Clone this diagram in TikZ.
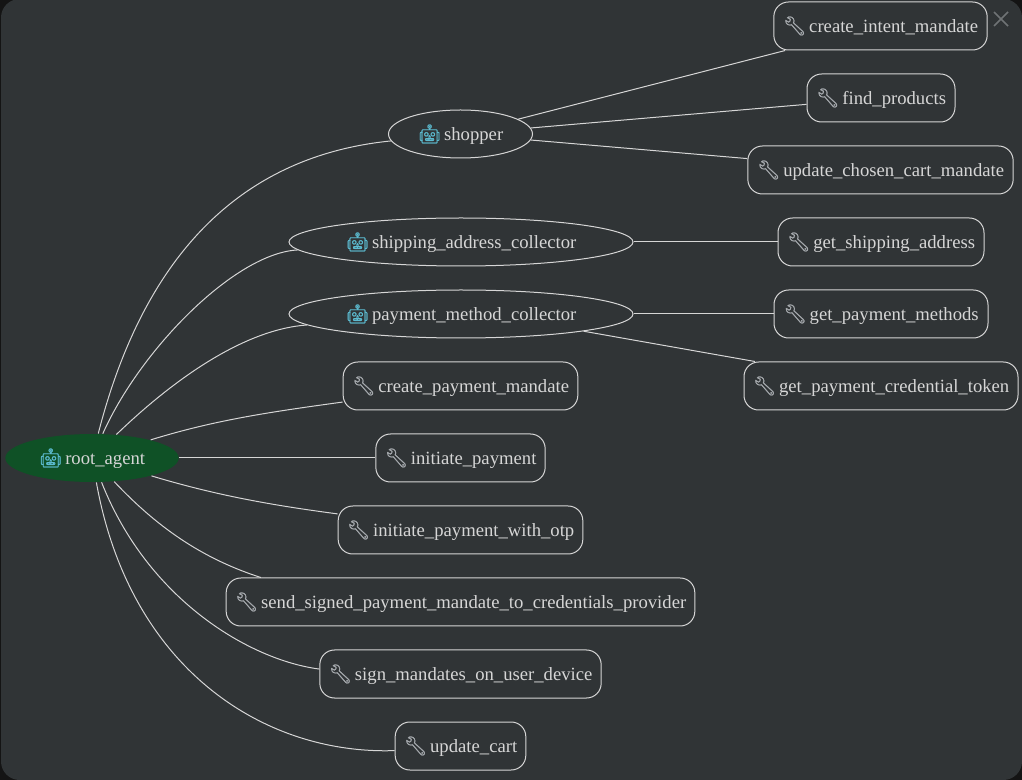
\documentclass[tikz,border=0pt]{standalone}
\usepackage{fontspec}
\setmainfont{Liberation Serif}
\newfontfamily\emojifont[FakeBold=1]{Noto Emoji}
\usetikzlibrary{shapes.geometric}
\definecolor{panelbg}{HTML}{303436}
\definecolor{cornerbg}{HTML}{141414}
\definecolor{inkline}{HTML}{D6D6D6}
\definecolor{closegrey}{HTML}{6F7375}
\definecolor{rootgreen}{HTML}{0F5126}
\definecolor{robotteal}{HTML}{5CBBD0}
\definecolor{wrenchgrey}{HTML}{A8ACB0}
\newcommand{\robotmark}{{\emojifont\color{robotteal}^^^^^^01f916}\kern-1.5pt}
\newcommand{\toolmark}{{\emojifont\color{wrenchgrey}^^^^^^01f527}\kern-1.5pt}
\tikzset{
	agent/.style={ellipse,draw=inkline,line width=.75pt,fill=panelbg,text=inkline,inner sep=0pt,minimum height=36pt,text height=13.5pt,text depth=4pt,font=\fontsize{14}{16}\selectfont},
	rootagent/.style={agent,draw=none,fill=rootgreen},
	tool/.style={rectangle,rounded corners=11pt,draw=inkline,line width=.75pt,fill=panelbg,text=inkline,inner sep=0pt,minimum height=36pt,text height=13.5pt,text depth=4pt,font=\fontsize{14}{16}\selectfont},
	link/.style={draw=inkline,line width=.75pt}
}
\begin{document}
\begin{tikzpicture}[x=.75pt,y=-.75pt]
	\useasboundingbox (0,0) rectangle (1022,780);
	\fill [cornerbg] (0,0) rectangle (1022,780);
	\fill [panelbg,rounded corners=14pt] (1,-1) rectangle (1022,780);

	\node [rootagent,minimum width=130pt] (root) at (92,458) {\robotmark{} root\_agent};

	\node [agent,minimum width=108pt] (shopper) at (460.5,134) {\robotmark{} shopper};
	\node [agent,minimum width=258pt] (shipping) at (461,242) {\robotmark{} shipping\_address\_collector};
	\node [agent,minimum width=258pt] (payment) at (461,314) {\robotmark{} payment\_method\_collector};

	\node [tool,minimum width=160pt] (intent) at (880.5,26) {\toolmark{} create\_intent\_mandate};
	\node [tool,minimum width=111pt] (products) at (881,98) {\toolmark{} find\_products};
	\node [tool,minimum width=199pt] (cart) at (880.5,170) {\toolmark{} update\_chosen\_cart\_mandate};
	\node [tool,minimum width=154.5pt] (address) at (881,242) {\toolmark{} get\_shipping\_address};
	\node [tool,minimum width=160.5pt] (methods) at (881,314) {\toolmark{} get\_payment\_methods};
	\node [tool,minimum width=205.5pt] (token) at (881,386) {\toolmark{} get\_payment\_credential\_token};

	\node [tool,minimum width=176pt] (mandate) at (460.5,386) {\toolmark{} create\_payment\_mandate};
	\node [tool,minimum width=127pt] (initiate) at (460.5,458) {\toolmark{} initiate\_payment};
	\node [tool,minimum width=183.5pt] (otp) at (460.5,530) {\toolmark{} initiate\_payment\_with\_otp};
	\node [tool,minimum width=351.5pt] (send) at (460.5,602) {\toolmark{} send\_signed\_payment\_mandate\_to\_credentials\_provider};
	\node [tool,minimum width=211pt] (sign) at (460.5,674) {\toolmark{} sign\_mandates\_on\_user\_device};
	\node [tool,minimum width=98pt] (update) at (460.5,746) {\toolmark{} update\_cart};

	% from the root
	\draw [link] (root) .. controls (135,290) and (215,158.5) .. (shopper);
	\draw [link] (root) .. controls (140,350) and (235,253) .. (shipping);
	\draw [link] (root) .. controls (175,378) and (245,329.4) .. (payment);
	\draw [link] (root) .. controls (215,420) and (270,412) .. (mandate);
	\draw [link] (root) -- (initiate);
	\draw [link] (root) .. controls (215,495) and (270,505) .. (otp);
	\draw [link] (root) .. controls (155,525) and (200,558) .. (send.173.5);
	\draw [link] (root) .. controls (148,600) and (250,660) .. (sign.178.4);
	\draw [link] (root) .. controls (130,670) and (265,755) .. (update.184.1);

	% second level
	\draw [link] (shopper) -- (intent);
	\draw [link] (shopper) -- (products);
	\draw [link] (shopper) -- (cart);
	\draw [link] (shipping) -- (address);
	\draw [link] (payment) -- (methods);
	\draw [link] (payment.-8.1) -- (token.169.7);

	% close mark
	\draw [draw=closegrey,line width=1.2pt] (994,12) -- (1008,26) (1008,12) -- (994,26);
\end{tikzpicture}
\end{document}
